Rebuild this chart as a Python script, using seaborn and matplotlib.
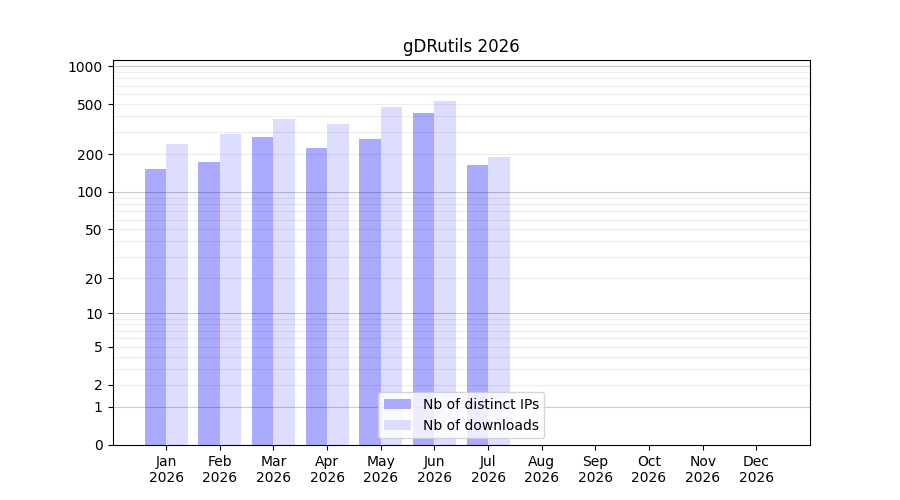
import numpy as np
import pandas as pd
import matplotlib
matplotlib.use('Agg')
import matplotlib.pyplot as plt
import seaborn as sns

months = ["Jan", "Feb", "Mar", "Apr", "May", "Jun",
          "Jul", "Aug", "Sep", "Oct", "Nov", "Dec"]
year = "2026"
distinct_ips = [151, 172, 272, 222, 262, 423, 163, 0, 0, 0, 0, 0]
downloads = [240, 288, 379, 345, 472, 527, 189, 0, 0, 0, 0, 0]
ytick_values = [0, 1, 2, 5, 10, 20, 50, 100, 200, 500, 1000]
major_lines = [1, 10, 100, 1000]
minor_lines = [2, 3, 4, 5, 6, 7, 8, 9,
               20, 30, 40, 50, 60, 70, 80, 90,
               200, 300, 400, 500, 600, 700, 800, 900]

labels = [f"{m}\n{year}" for m in months]
df = pd.DataFrame({
    "month": labels * 2,
    "count": distinct_ips + downloads,
    "kind": ["Nb of distinct IPs"] * 12 + ["Nb of downloads"] * 12,
})

fig, ax = plt.subplots(figsize=(9, 5), dpi=100)
sns.barplot(data=df, x="month", y="count", hue="kind",
            palette=["#aaaaff", "#ddddff"], saturation=1,
            width=0.8, ax=ax, zorder=2)

ax.set_yscale("function", functions=(lambda v: np.log10(1 + np.clip(v, 0, None)),
                                      lambda v: 10 ** v - 1))
ax.set_ylim(0, 1117)
ax.set_xlim(-1, 12)
ax.set_yticks(ytick_values)
ax.set_yticklabels([str(v) for v in ytick_values])
ax.yaxis.set_minor_locator(matplotlib.ticker.NullLocator())

for v in major_lines:
    ax.axhline(v, color="black", alpha=0.2, lw=0.8, zorder=3)
for v in minor_lines:
    ax.axhline(v, color="black", alpha=0.07, lw=0.8, zorder=3)

ax.set_xlabel("")
ax.set_ylabel("")
ax.set_title("gDRutils 2026")
ax.legend(loc="lower center", title=None)

plt.savefig("out.png", dpi=100)
